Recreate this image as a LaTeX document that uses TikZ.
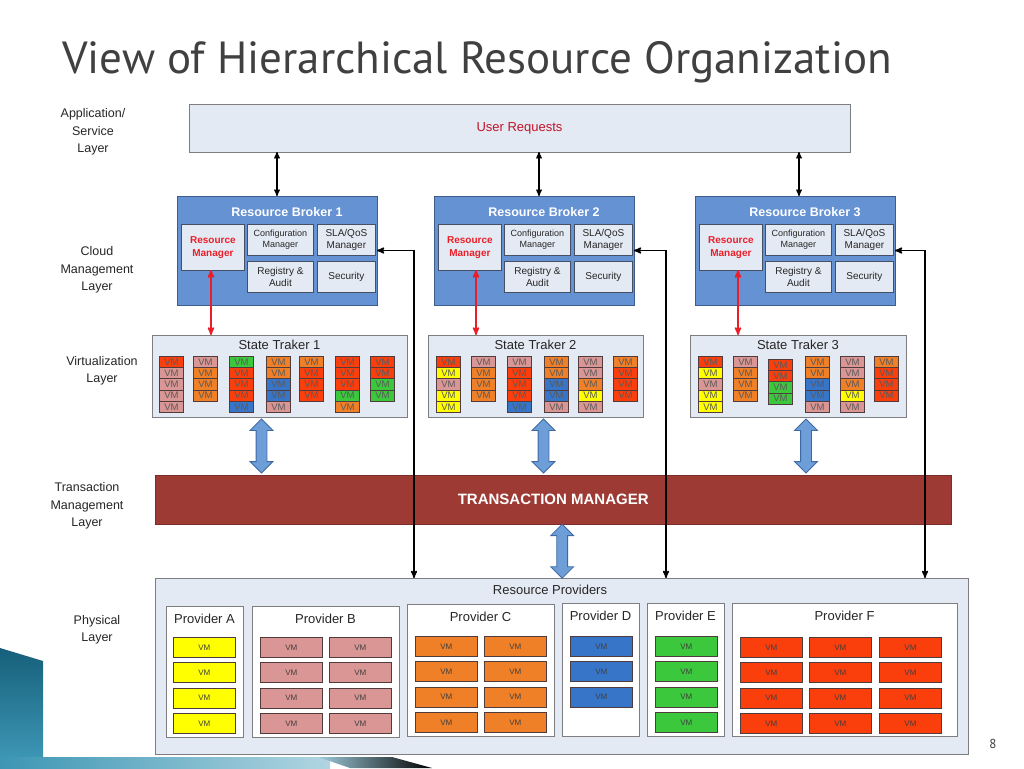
\documentclass[tikz,border=0pt]{standalone}
\usepackage{fontspec}
\setmainfont{Liberation Sans}
\newfontfamily\slidefont{PT Sans}
\usetikzlibrary{calc}
\usetikzlibrary{arrows}
\usetikzlibrary{shapes.arrows}

\definecolor{titlegray}{RGB}{64,64,64}
\definecolor{paneblue}{RGB}{228,234,244}
\definecolor{panegray}{RGB}{125,125,130}
\definecolor{brokerblue}{RGB}{101,146,211}
\definecolor{brokerline}{RGB}{62,92,140}
\definecolor{subline}{RGB}{70,80,100}
\definecolor{reqred}{RGB}{192,20,40}
\definecolor{rmred}{RGB}{235,30,40}
\definecolor{tmred}{RGB}{158,58,52}
\definecolor{fatblue}{RGB}{110,158,216}
\definecolor{fatline}{RGB}{62,105,165}
\definecolor{vmline}{RGB}{80,60,60}
\definecolor{vmr}{RGB}{250,62,12}
\definecolor{vmp}{RGB}{217,150,148}
\definecolor{vmo}{RGB}{240,128,40}
\definecolor{vmg}{RGB}{60,200,60}
\definecolor{vmb}{RGB}{55,117,200}
\definecolor{vmy}{RGB}{255,255,0}
\definecolor{tealdark}{RGB}{22,95,122}
\definecolor{teallight}{RGB}{60,150,180}

\tikzset{
  pane/.style={draw=panegray, fill=paneblue, line width=1pt, anchor=north west, inner sep=0pt, outer sep=0pt},
  broker/.style={draw=brokerline, fill=brokerblue, line width=1pt, anchor=north west, inner sep=0pt, outer sep=0pt},
  brtitle/.style={text=white, font=\bfseries\fontsize{12.5}{12.5}\selectfont},
  sub/.style={draw=subline, fill=paneblue, line width=.8pt, anchor=north west, inner sep=0pt, align=center, font=\fontsize{10}{11.5}\selectfont, text=black!85},
  sttitle/.style={font=\fontsize{13}{13}\selectfont, text=black!85},
  vm/.style={draw=vmline, line width=.8pt, anchor=north west, minimum width=24pt, minimum height=11.2pt, inner sep=0pt, font=\fontsize{9.5}{9.5}\selectfont, text=black!65},
  pvm/.style={draw=vmline, line width=.8pt, anchor=north west, minimum width=62pt, minimum height=20pt, inner sep=0pt, font=\fontsize{8}{8}\selectfont, text=black!75},
  prov/.style={draw=panegray, fill=white, line width=1pt, anchor=north west, inner sep=0pt, outer sep=0pt},
  ptitle/.style={font=\fontsize{13}{13}\selectfont, text=black!85},
  layer/.style={align=center, font=\fontsize{12.5}{17.5}\selectfont, text=black!85},
  req/.style={black, line width=1.3pt, <->, >=stealth'},
  link/.style={black, line width=1.5pt, <->, >=stealth'},
  rmlink/.style={rmred, line width=1.6pt, <->, >=stealth'},
  fat/.style={double arrow, draw=fatline, fill=fatblue, line width=.8pt, rotate=90, minimum height=54pt, inner xsep=0pt, inner ysep=5pt, double arrow head extend=6pt}
}

\begin{document}
\begin{tikzpicture}[x=1pt, y=-1pt]
\fill[white] (0,0) rectangle (1024,768);
\useasboundingbox (0,0) rectangle (1024,768);

% slide decoration
\shade[top color=tealdark, bottom color=teallight] (0,648) -- (43,661) -- (43,757) -- (0,757) -- cycle;
\shade[left color=teallight, right color=teallight!40] (0,757) rectangle (330,768);
\shade[left color=teallight!50, right color=black] (318,757) -- (392,757) -- (432,768) -- (350,768) -- cycle;

% title and page number
\node[anchor=base west, inner sep=0pt, text=titlegray, font=\slidefont\fontsize{45}{45}\selectfont] (title) at (62,73) {View of Hierarchical Resource Organization};
\node[anchor=base, inner sep=0pt, text=titlegray, font=\slidefont\fontsize{13}{13}\selectfont] (page) at (993,748) {8};

% layer names
\node[layer] (lapp) at (93,132) {Application/\\Service\\Layer};
\node[layer] (lcloud) at (97,270) {Cloud\\Management\\Layer};
\node[layer] (lvirt) at (102,371) {Virtualization\\Layer};
\node[layer] (ltrans) at (87,506) {Transaction\\Management\\Layer};
\node[layer] (lphys) at (97,630) {Physical\\Layer};

% application layer
\node[pane, minimum width=661pt, minimum height=48pt, text=reqred, font=\fontsize{13}{13}\selectfont] (ur) at (189,104) {User Requests};

% brokers
\foreach \i/\x/\u/\r/\d in {1/177/277/211/414, 2/434/539/476/666, 3/695/799/738/925} {
  \node[broker, minimum width=200pt, minimum height=109pt] (rb\i) at (\x,196) {};
  \node[brtitle] (rb\i-t) at (\x+110,212) {Resource Broker \i};
  \node[sub, minimum width=63pt, minimum height=46pt, text=rmred, font=\bfseries\fontsize{10}{12.5}\selectfont] (rm\i) at (\x+4,224) {Resource\\Manager};
  \node[sub, minimum width=66pt, minimum height=31pt, font=\fontsize{9}{11}\selectfont] (cm\i) at (\x+70,224) {Configuration\\Manager};
  \node[sub, minimum width=58pt, minimum height=31pt] (sla\i) at (\x+140,224) {SLA/QoS\\Manager};
  \node[sub, minimum width=66pt, minimum height=31pt] (ra\i) at (\x+70,261) {Registry \&\\Audit};
  \node[sub, minimum width=58pt, minimum height=31pt] (sec\i) at (\x+140,261) {Security};
  \coordinate (up\i) at (\u,196);
  \coordinate (rd\i) at (\r,270);
  \coordinate (drop\i) at (\d,578);
}

% state trackers
\node[pane, minimum width=255pt, minimum height=82pt] (st1) at (152,335) {};
\node[pane, minimum width=215pt, minimum height=82pt] (st2) at (428,335) {};
\node[pane, minimum width=216pt, minimum height=82pt] (st3) at (690,335) {};
\foreach \i in {1,2,3}
  \node[sttitle] (st\i-t) at ([yshift=-10pt]st\i.north) {State Traker \i};

\foreach \x/\y/\cs [count=\i] in {159/356/{r,p,p,p,p}, 193/356/{p,o,o,o}, 229/356/{g,r,r,r,b}, 266/356/{o,o,b,b,p}, 299/356/{o,r,r,r}, 335/356/{r,r,r,g,o}, 370/356/{r,r,g,g}}
  \foreach \c [count=\j] in \cs
    \node[vm, fill=vm\c] (va-\i-\j) at (\x,\y+11.2*\j-11.2) {VM};
\foreach \x/\y/\cs [count=\i] in {436/356/{r,y,p,y,y}, 471/356/{p,o,o,o}, 507/356/{p,r,r,r,b}, 544/356/{o,o,b,b,p}, 578/356/{p,p,o,y,p}, 613/356/{o,r,r,r}}
  \foreach \c [count=\j] in \cs
    \node[vm, fill=vm\c] (vb-\i-\j) at (\x,\y+11.2*\j-11.2) {VM};
\foreach \x/\y/\cs [count=\i] in {698/356/{r,y,p,y,y}, 733/356/{p,o,o,o}, 768/359/{r,r,g,g}, 805/356/{o,o,b,b,p}, 840/356/{p,p,o,y,p}, 874/356/{o,r,r,r}}
  \foreach \c [count=\j] in \cs
    \node[vm, fill=vm\c] (vc-\i-\j) at (\x,\y+11.2*\j-11.2) {VM};

% transaction manager
\node[anchor=north west, fill=tmred, draw=tmred!80!black, inner sep=0pt, minimum width=796pt, minimum height=49pt, text=white, font=\bfseries\fontsize{15}{15}\selectfont] (tm) at (155,475) {TRANSACTION MANAGER};

% physical layer
\node[pane, minimum width=813pt, minimum height=176pt] (rp) at (155,578) {};
\node[ptitle] (rp-t) at (550,590) {Resource Providers};
\foreach \n/\x/\y/\w/\h in {A/166/606/77/131, B/252/606/147/131, C/407/604/147/132, D/562/603/77/133, E/647/603/77/133, F/732/603/225/133} {
  \node[prov, minimum width=\w pt, minimum height=\h pt] (p\n) at (\x,\y) {};
  \node[ptitle] (p\n-t) at ([yshift=-13pt]p\n.north) {Provider \n};
}
\foreach \x/\y/\n/\c in {173/637/4/y, 260/637/4/p, 329/637/4/p, 415/636/4/o, 484/636/4/o, 570/636/3/b, 655/636/4/g, 740/637/4/r, 809/637/4/r, 879/637/4/r}
  \foreach \j in {1,...,\n}
    \node[pvm, fill=vm\c] (pv-\x-\j) at (\x,\y+25.4*\j-25.4) {VM};

% connectors
\foreach \i in {1,2,3} {
  \draw[req] (up\i) -- (up\i |- ur.south);
  \draw[rmlink] (rd\i) -- (rd\i |- st\i.north);
  \draw[link] (rb\i.east) -| (drop\i);
}
\foreach \s/\dx in {st1/-18, st2/8, st3/8}
  \path ($(\s.south)+(\dx,0)$) -- ($(\s.south |- tm.north)+(\dx,0)$) node[midway, fat] (f-\s) {};
\path ($(tm.south)+(9,0)$) -- ($(tm.south |- rp.north)+(9,0)$) node[midway, fat] (f-tm) {};
\end{tikzpicture}
\end{document}
